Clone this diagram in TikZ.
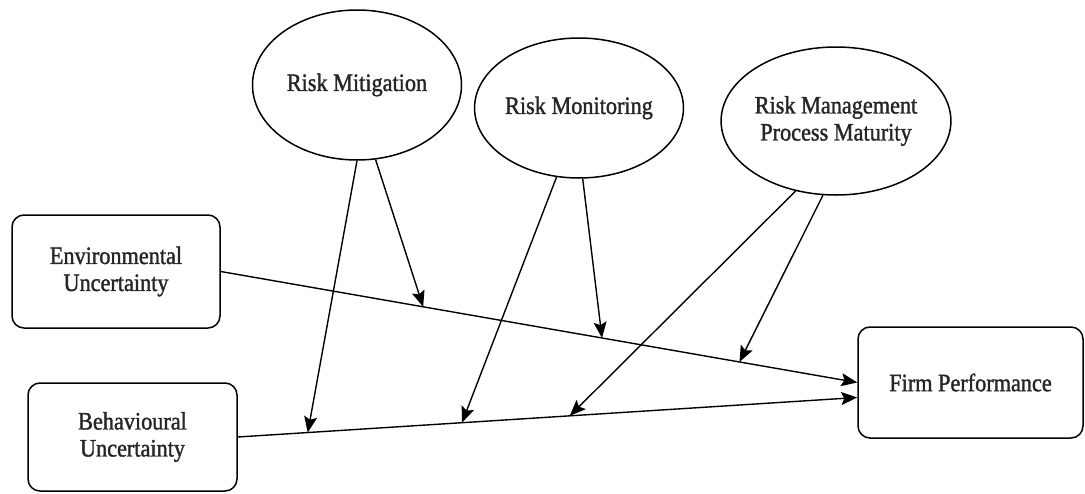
\documentclass[tikz,border=0pt]{standalone}
\usepackage{fontspec}
\newfontfamily\lblfont[FakeStretch=0.89,FakeBold=1.4]{Liberation Serif}
\usetikzlibrary{shapes.geometric,arrows.meta}
\begin{document}
\begin{tikzpicture}[x=1pt,y=-1pt,
  lbl/.style={font=\lblfont\fontsize{25}{27}\selectfont, align=center, text=black!85},
  oval/.style={lbl, draw, ellipse, line width=1.5pt, inner sep=0pt},
  rbox/.style={lbl, draw, rectangle, rounded corners=12pt, line width=1.5pt, inner sep=0pt},
  conn/.style={line width=1.4pt, -{Stealth[length=16pt,width=13pt,inset=3pt]}}]
\useasboundingbox (0,0) rectangle (1085,493);
% ellipses
\node[oval, minimum width=209pt, minimum height=150pt] (RMit) at (357,85) {Risk Mitigation};
\node[oval, minimum width=134pt, minimum height=140pt] (RMon) at (579,108) {Risk Monitoring};
\node[oval, minimum width=203pt, minimum height=148pt] (RMan) at (836,121) {Risk Management\\Process Maturity};
% boxes
\node[rbox, minimum width=208pt, minimum height=113pt] (EU) at (116,271.5) {Environmental\\Uncertainty};
\node[rbox, minimum width=209pt, minimum height=108pt] (BU) at (132.5,437) {Behavioural\\Uncertainty};
\node[rbox, minimum width=225pt, minimum height=111pt] (FP) at (970.5,382.5) {Firm Performance};
% main paths
\draw[conn] (EU.east) -- (FP.west)
  coordinate[pos=0.318] (e1)
  coordinate[pos=0.599] (e2)
  coordinate[pos=0.815] (e3);
\draw[conn] (BU.east) -- ([yshift=-15pt]FP.west)
  coordinate[pos=0.113] (b1)
  coordinate[pos=0.362] (b2)
  coordinate[pos=0.536] (b3);
% moderator arrows
\draw[conn] (RMit.-90) -- (b1);
\draw[conn] (RMit.-76) -- (e1);
\draw[conn] (RMon.-108) -- (b2);
\draw[conn] (RMon.-87) -- (e2);
\draw[conn] (RMan.-120) -- (b3);
\draw[conn] (RMan.-100) -- (e3);
\end{tikzpicture}
\end{document}
